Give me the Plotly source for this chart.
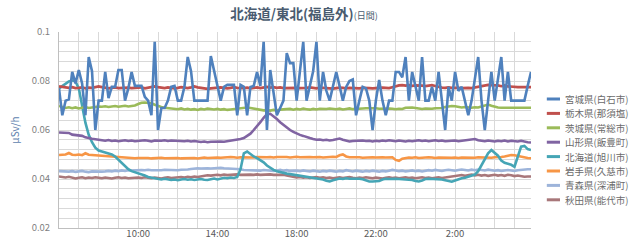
import plotly.graph_objects as go

# 10-minute readings, 6:00 through 5:50 the next morning
times = [f"{(6 + k // 6) % 24}:{(k % 6) * 10:02d}" for k in range(144)]
tick_labels = ["10:00", "14:00", "18:00", "22:00", "2:00"]

names = ["宮城県(白石市)", "栃木県(那須塩)", "茨城県(常総市)", "山形県(飯豊町)",
         "北海道(旭川市)", "岩手県(久慈市)", "青森県(深浦町)", "秋田県(能代市)"]
colors = ["#4F81BD", "#C0504D", "#9BBB59", "#8064A2",
          "#45A5B5", "#F79646", "#9DB4DA", "#A8777A"]

miyagi = [
    .0770, .0660, .0720, .0725, .0837, .0790, .0845, .0790, .0660, .0898, .0840, .0600,
    .0720, .0720, .0837, .0730, .0776, .0776, .0845, .0845, .0720, .0770, .0837, .0780,
    .0780, .0780, .0735, .0720, .0660, .0960, .0600, .0690, .0690, .0720, .0776, .0780,
    .0720, .0720, .0776, .0898, .0840, .0720, .0720, .0720, .0720, .0720, .0902, .0837,
    .0776, .0720, .0776, .0784, .0784, .0784, .0660, .0784, .0776, .0660, .0776, .0780,
    .0837, .0780, .0960, .0600, .0845, .0760, .0660, .0690, .0720, .0914, .0873, .0873,
    .0720, .0840, .0960, .0720, .0780, .0840, .0960, .0720, .0837, .0760, .0720, .0776,
    .0837, .0780, .0720, .0776, .0800, .0806, .0660, .0720, .0776, .0770, .0720, .0600,
    .0720, .0804, .0720, .0660, .0720, .0720, .0837, .0837, .0815, .0898, .0720, .0837,
    .0776, .0720, .0898, .0720, .0720, .0776, .0720, .0837, .0720, .0600, .0776, .0720,
    .0837, .0760, .0776, .0720, .0660, .0720, .0800, .0898, .0720, .0600, .0720, .0837,
    .0720, .0800, .0898, .0720, .0837, .0720, .0720, .0720, .0720, .0720, .0780, .0837,
]
tochigi = [
    .0778, .0776, .0774, .0772, .0775, .0771, .0772, .0774, .0770, .0773, .0772, .0776,
    .0778, .0775, .0772, .0770, .0772, .0774, .0771, .0772, .0770, .0773, .0771, .0772,
    .0772, .0774, .0770, .0772, .0776, .0778, .0775, .0772, .0771, .0774, .0772, .0770,
    .0772, .0775, .0773, .0771, .0774, .0778, .0774, .0772, .0770, .0768, .0770, .0772,
    .0771, .0774, .0772, .0770, .0772, .0775, .0772, .0770, .0771, .0773, .0770, .0772,
    .0774, .0771, .0772, .0776, .0773, .0775, .0772, .0774, .0771, .0772, .0770, .0773,
    .0772, .0771, .0770, .0772, .0774, .0772, .0770, .0773, .0771, .0772, .0770, .0769,
    .0771, .0773, .0772, .0770, .0772, .0771, .0769, .0770, .0772, .0773, .0771, .0770,
    .0772, .0771, .0773, .0772, .0771, .0775, .0779, .0782, .0783, .0781, .0783, .0780,
    .0782, .0783, .0781, .0779, .0781, .0783, .0780, .0776, .0773, .0772, .0774, .0772,
    .0773, .0772, .0771, .0773, .0772, .0771, .0774, .0776, .0780, .0782, .0784, .0783,
    .0784, .0782, .0779, .0782, .0778, .0776, .0775, .0775, .0775, .0775, .0775, .0775,
]
ibaraki = [
    .0698, .0694, .0690, .0693, .0689, .0692, .0688, .0691, .0694, .0690, .0692, .0695,
    .0696, .0695, .0697, .0694, .0696, .0698, .0695, .0697, .0699, .0696, .0698, .0700,
    .0706, .0711, .0712, .0711, .0709, .0703, .0697, .0694, .0691, .0689, .0690, .0687,
    .0685, .0688, .0684, .0686, .0683, .0685, .0682, .0686, .0684, .0687, .0685, .0684,
    .0686, .0683, .0685, .0682, .0684, .0686, .0688, .0691, .0693, .0692, .0690, .0687,
    .0685, .0682, .0680, .0681, .0679, .0682, .0680, .0683, .0685, .0684, .0686, .0683,
    .0686, .0684, .0687, .0685, .0683, .0686, .0684, .0687, .0685, .0686, .0688, .0686,
    .0685, .0687, .0684, .0686, .0688, .0685, .0687, .0686, .0688, .0689, .0690, .0688,
    .0689, .0687, .0688, .0686, .0688, .0687, .0685, .0687, .0686, .0691, .0693, .0692,
    .0690, .0687, .0686, .0688, .0686, .0687, .0689, .0688, .0690, .0694, .0697, .0698,
    .0697, .0695, .0692, .0694, .0692, .0691, .0693, .0692, .0696, .0701, .0704, .0699,
    .0694, .0692, .0691, .0691, .0691, .0691, .0691, .0691, .0691, .0691, .0691, .0691,
]
yamagata = [
    .0590, .0589, .0590, .0588, .0581, .0580, .0579, .0576, .0570, .0566, .0564, .0562,
    .0560, .0558, .0556, .0559, .0555, .0557, .0554, .0556, .0558, .0555, .0557, .0554,
    .0556, .0555, .0558, .0556, .0553, .0557, .0555, .0556, .0558, .0555, .0557, .0556,
    .0555, .0557, .0554, .0556, .0553, .0555, .0552, .0551, .0553, .0550, .0552, .0553,
    .0551, .0553, .0552, .0554, .0555, .0557, .0560, .0563, .0567, .0575, .0585, .0600,
    .0615, .0632, .0650, .0664, .0666, .0657, .0645, .0632, .0620, .0610, .0600, .0592,
    .0585, .0580, .0576, .0570, .0567, .0563, .0560, .0561, .0558, .0560, .0557, .0559,
    .0563, .0565, .0560, .0557, .0553, .0555, .0556, .0554, .0557, .0555, .0556, .0553,
    .0556, .0554, .0557, .0555, .0558, .0556, .0554, .0557, .0555, .0553, .0556, .0554,
    .0556, .0558, .0555, .0557, .0554, .0556, .0558, .0555, .0557, .0554, .0556, .0555,
    .0557, .0554, .0556, .0555, .0557, .0560, .0563, .0558, .0556, .0554, .0557, .0555,
    .0553, .0556, .0554, .0557, .0553, .0556, .0555, .0553, .0556, .0552, .0550, .0549,
]
hokkaido = [
    .0770, .0780, .0790, .0798, .0803, .0798, .0770, .0700, .0630, .0580, .0550, .0528,
    .0516, .0512, .0509, .0505, .0500, .0492, .0478, .0465, .0450, .0440, .0432, .0428,
    .0424, .0420, .0414, .0408, .0405, .0402, .0400, .0398, .0401, .0397, .0396, .0398,
    .0395, .0398, .0400, .0397, .0399, .0396, .0398, .0400, .0397, .0396, .0399, .0402,
    .0398, .0401, .0405, .0403, .0406, .0404, .0408, .0440, .0505, .0512, .0500, .0492,
    .0485, .0478, .0468, .0455, .0445, .0437, .0432, .0428, .0425, .0422, .0420, .0418,
    .0416, .0413, .0410, .0408, .0405, .0403, .0401, .0400, .0398, .0393, .0390, .0395,
    .0400, .0402, .0400, .0403, .0401, .0402, .0400, .0401, .0399, .0395, .0390, .0390,
    .0390, .0392, .0398, .0401, .0400, .0402, .0401, .0400, .0399, .0401, .0400, .0396,
    .0392, .0390, .0394, .0400, .0401, .0400, .0402, .0400, .0398, .0395, .0391, .0389,
    .0394, .0400, .0403, .0405, .0410, .0415, .0418, .0432, .0455, .0480, .0505, .0518,
    .0508, .0495, .0475, .0466, .0462, .0458, .0450, .0490, .0532, .0535, .0522, .0518,
]
iwate = [
    .0498, .0499, .0500, .0506, .0499, .0498, .0500, .0497, .0505, .0499, .0498, .0497,
    .0496, .0494, .0493, .0491, .0490, .0489, .0488, .0487, .0488, .0486, .0487, .0485,
    .0486, .0487, .0485, .0486, .0484, .0486, .0485, .0487, .0485, .0486, .0484, .0485,
    .0486, .0484, .0485, .0487, .0485, .0486, .0484, .0486, .0488, .0486, .0487, .0489,
    .0488, .0487, .0489, .0488, .0490, .0489, .0487, .0489, .0488, .0490, .0489, .0488,
    .0490, .0489, .0491, .0489, .0490, .0488, .0490, .0491, .0489, .0490, .0488, .0490,
    .0491, .0489, .0490, .0488, .0490, .0489, .0491, .0490, .0488, .0490, .0489, .0491,
    .0490, .0497, .0500, .0492, .0489, .0490, .0488, .0489, .0487, .0488, .0490, .0489,
    .0488, .0490, .0489, .0488, .0487, .0489, .0478, .0474, .0483, .0486, .0488, .0487,
    .0489, .0486, .0488, .0487, .0489, .0488, .0486, .0488, .0487, .0489, .0488, .0487,
    .0488, .0486, .0488, .0487, .0489, .0488, .0487, .0489, .0488, .0486, .0488, .0487,
    .0489, .0488, .0490, .0492, .0495, .0498, .0497, .0494, .0490, .0488, .0486, .0485,
]
aomori = [
    .0432, .0431, .0433, .0430, .0432, .0429, .0431, .0433, .0430, .0428, .0431, .0430,
    .0432, .0430, .0431, .0433, .0431, .0434, .0432, .0435, .0433, .0436, .0434, .0436,
    .0435, .0437, .0436, .0438, .0436, .0435, .0437, .0436, .0438, .0437, .0435, .0437,
    .0436, .0438, .0437, .0439, .0441, .0443, .0444, .0443, .0445, .0444, .0443, .0445,
    .0444, .0446, .0444, .0443, .0445, .0444, .0443, .0440, .0437, .0436, .0438, .0435,
    .0436, .0434, .0437, .0435, .0436, .0433, .0435, .0437, .0434, .0436, .0433, .0435,
    .0434, .0432, .0435, .0433, .0431, .0434, .0432, .0430, .0433, .0431, .0434, .0432,
    .0430, .0433, .0431, .0436, .0433, .0431, .0434, .0432, .0430, .0433, .0431, .0434,
    .0432, .0430, .0433, .0431, .0434, .0437, .0435, .0432, .0434, .0431, .0433, .0435,
    .0432, .0434, .0431, .0433, .0436, .0434, .0437, .0435, .0433, .0436, .0438, .0436,
    .0434, .0437, .0439, .0437, .0435, .0438, .0436, .0439, .0437, .0435, .0438, .0436,
    .0434, .0436, .0433, .0435, .0437, .0435, .0433, .0436, .0438, .0439, .0440, .0440,
]
akita = [
    .0410, .0408, .0406, .0409, .0404, .0402, .0405, .0407, .0403, .0406, .0404, .0407,
    .0405, .0403, .0406, .0404, .0402, .0405, .0407, .0404, .0406, .0403, .0405, .0404,
    .0406, .0404, .0407, .0405, .0403, .0406, .0404, .0402, .0405, .0407, .0404, .0406,
    .0405, .0408, .0406, .0409, .0407, .0410, .0408, .0411, .0413, .0415, .0414, .0416,
    .0417, .0415, .0418, .0416, .0418, .0417, .0419, .0417, .0418, .0416, .0418, .0417,
    .0419, .0417, .0418, .0416, .0419, .0417, .0418, .0416, .0417, .0414, .0411, .0408,
    .0406, .0408, .0405, .0407, .0404, .0406, .0408, .0405, .0407, .0404, .0406, .0403,
    .0405, .0407, .0404, .0406, .0408, .0405, .0403, .0406, .0404, .0407, .0405, .0403,
    .0406, .0404, .0402, .0405, .0407, .0404, .0406, .0403, .0405, .0407, .0404, .0406,
    .0403, .0405, .0407, .0404, .0406, .0403, .0405, .0407, .0404, .0406, .0408, .0410,
    .0412, .0414, .0416, .0413, .0415, .0418, .0415, .0417, .0414, .0416, .0413, .0415,
    .0417, .0414, .0416, .0413, .0417, .0415, .0412, .0414, .0411, .0409, .0410, .0410,
]

series = [miyagi, tochigi, ibaraki, yamagata, hokkaido, iwate, aomori, akita]

FONT = "Noto Sans CJK JP"
x = list(range(len(times)))

fig = go.Figure()
# draw in reverse so the first series ends up on top
for name, color, values in reversed(list(zip(names, colors, series))):
    fig.add_trace(go.Scatter(
        x=x, y=values, name=name, mode="lines",
        line=dict(color=color, width=2.6),
        customdata=times, hovertemplate="%{customdata}: %{y}<extra>" + name + "</extra>",
        showlegend=False,
    ))

# compact legend drawn on the right-hand side
row_h = 14.4 / 196
top = (228 - 99) / 196
for k, (name, color) in enumerate(zip(names, colors)):
    yk = top - k * row_h
    fig.add_shape(type="line", xref="paper", yref="paper",
                  x0=1.0335, x1=1.0615, y0=yk, y1=yk,
                  line=dict(color=color, width=3))
    fig.add_annotation(xref="paper", yref="paper", x=1.068, y=yk,
                       xanchor="left", yanchor="middle", showarrow=False,
                       text=name, font=dict(family=FONT, size=9.5, color="#6A6A6A"))

fig.update_layout(
    width=640, height=240,
    margin=dict(l=59, r=109, t=32, b=12),
    paper_bgcolor="white", plot_bgcolor="white",
    font=dict(family=FONT, color="#595959"),
    title=dict(
        text="<b>北海道/東北(福島外)</b><span style='font-size:9px'>(日間)</span>",
        x=0.475, xanchor="center", y=0.94, yanchor="middle",
        font=dict(family=FONT, size=13.5, color="#4A5C70"),
    ),
    showlegend=False,
)
fig.update_xaxes(
    range=[0, len(times) - 1],
    tickmode="array",
    tickvals=[times.index(t) for t in tick_labels],
    ticktext=tick_labels,
    ticks="", showgrid=True, gridcolor="#D9D9D9", gridwidth=1,
    minor=dict(tickmode="linear", tick0=0, dtick=6, showgrid=True,
               gridcolor="#D9D9D9", gridwidth=1),
    showline=True, linecolor="#BFBFBF", linewidth=1,
    zeroline=False, automargin=False,
    tickfont=dict(family=FONT, size=9.5, color="#595959"),
    ticklabelstandoff=-3,
)
fig.update_yaxes(
    range=[0.02, 0.1],
    tickmode="array",
    tickvals=[0.02, 0.04, 0.06, 0.08, 0.1],
    ticktext=["0.02", "0.04", "0.06", "0.08", "0.1"],
    ticks="", showgrid=True, gridcolor="#D9D9D9", gridwidth=1,
    minor=dict(tickmode="linear", tick0=0.02, dtick=0.004, showgrid=True,
               gridcolor="#D9D9D9", gridwidth=1),
    showline=True, linecolor="#BFBFBF", linewidth=1,
    zeroline=False, automargin=False,
    tickfont=dict(family=FONT, size=9.5, color="#7F7F7F"),
    ticklabelstandoff=6,
    title=dict(text="μSv/h", standoff=10,
               font=dict(family=FONT, size=10, color="#5E7FAE")),
)

fig.write_html("out.html")
